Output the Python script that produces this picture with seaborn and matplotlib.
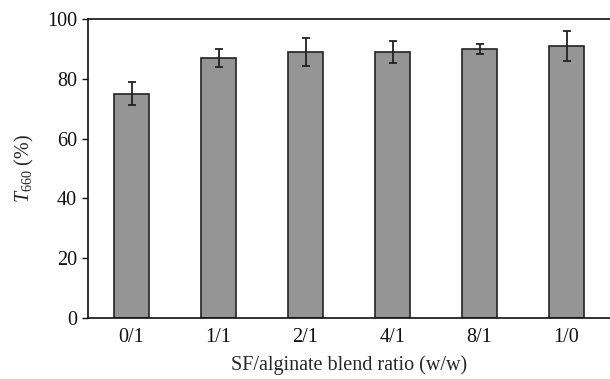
import matplotlib
matplotlib.use("Agg")
import matplotlib.pyplot as plt
import seaborn as sns
import pandas as pd

# Datos
ratios = ["0/1", "1/1", "2/1", "4/1", "8/1", "1/0"]
t660 = [75.0, 87.0, 89.0, 89.0, 90.0, 91.0]
t660_err = [3.8, 3.0, 4.8, 3.6, 1.8, 4.9]

df = pd.DataFrame({"ratio": ratios, "T660": t660})

sns.set_style("white")
plt.rcParams["font.family"] = ["Liberation Serif", "DejaVu Serif"]
plt.rcParams["mathtext.fontset"] = "custom"
plt.rcParams["mathtext.rm"] = "Liberation Serif"
plt.rcParams["mathtext.it"] = "Liberation Serif:italic"

fig = plt.figure(figsize=(6.1, 3.79), dpi=100)
ax = fig.add_axes([88 / 610, 61 / 379, 522 / 610, 299 / 379])

sns.barplot(data=df, x="ratio", y="T660", color="#959595", saturation=1,
            edgecolor="#222222", linewidth=1.2, width=0.4, ax=ax)
ax.errorbar(range(len(ratios)), t660, yerr=t660_err, fmt="none",
            ecolor="#222222", elinewidth=1.3, capsize=3, capthick=1.3)

ax.set_ylim(0, 100)
ax.set_xlim(-0.5, 5.5)
ax.set_yticks([0, 20, 40, 60, 80, 100])
ax.tick_params(axis="y", direction="out", length=4, width=1, left=True,
               pad=4, labelsize=14.5, colors="#111111")
ax.tick_params(axis="x", length=0, labelsize=14.5, pad=7, colors="#111111")
for s in ["left", "top", "bottom"]:
    ax.spines[s].set_color("#111111")
    ax.spines[s].set_linewidth(1.2)
ax.spines["right"].set_visible(False)

ax.set_xlabel("SF/alginate blend ratio (w/w)", fontsize=14.5, labelpad=6)
ax.set_ylabel(r"$T_{660}$ (%)", fontsize=14.5, labelpad=8)

fig.savefig("out.png", dpi=100)
